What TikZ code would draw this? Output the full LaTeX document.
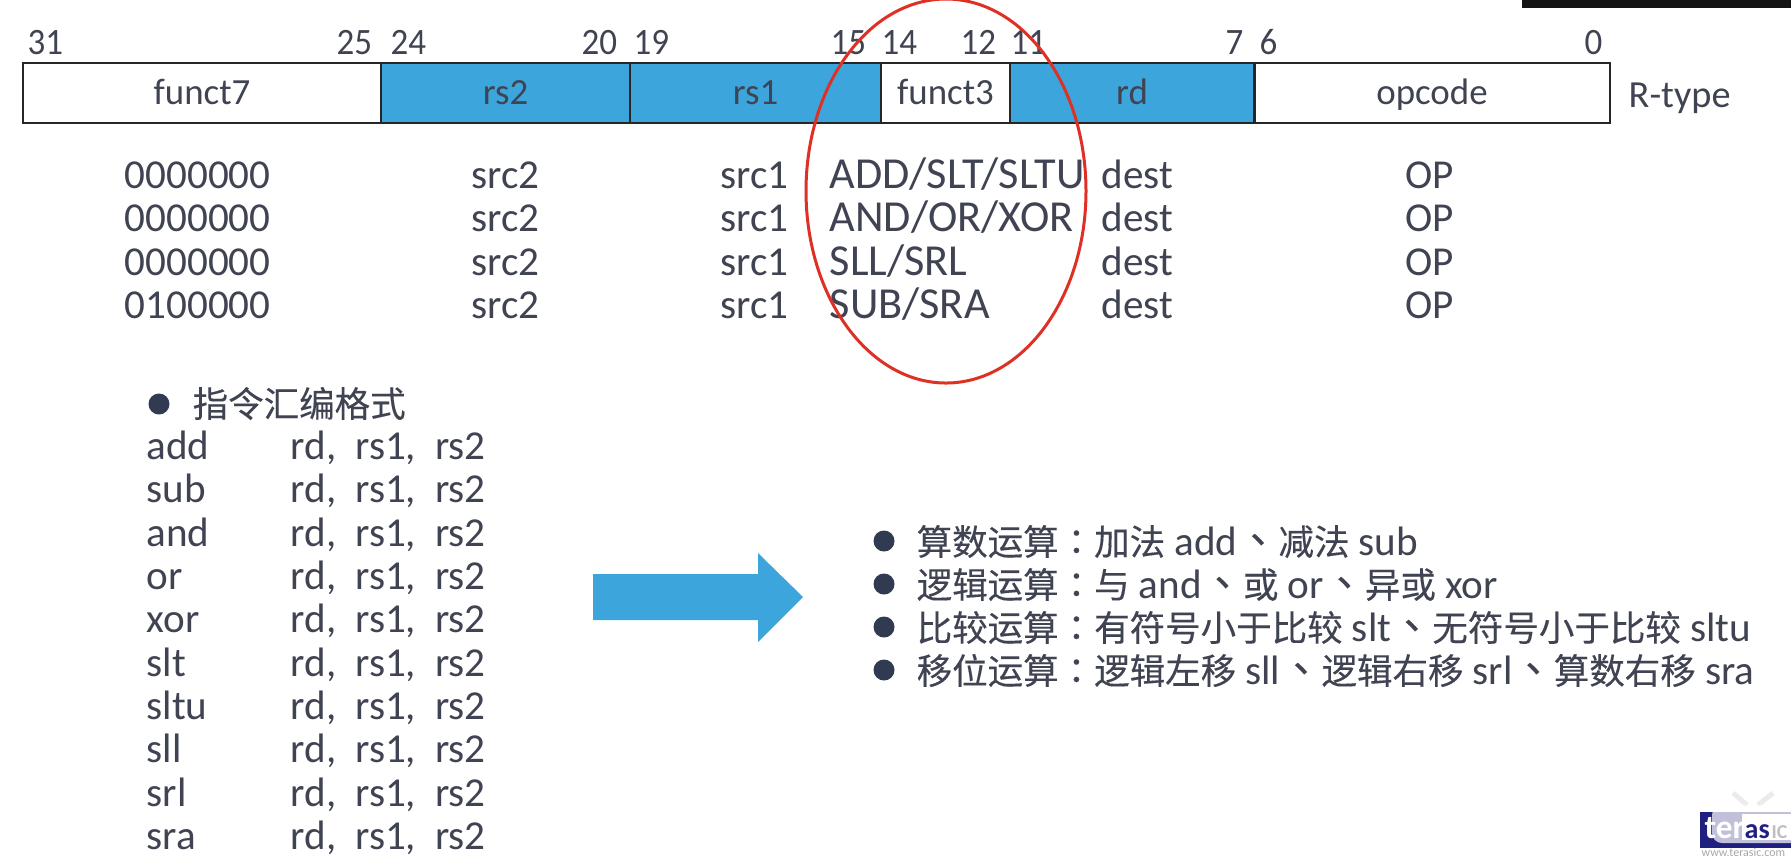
\documentclass[tikz,border=0pt]{standalone}
\usepackage{fontspec}
\setmainfont{Carlito}
\newfontfamily\bitf[FakeStretch=0.94]{Carlito}
\newfontfamily\cjk[FakeBold=0.25]{Noto Sans CJK SC}
\newfontfamily\cjkp[FakeBold=0.25]{Noto Sans CJK TC}
\usetikzlibrary{positioning,calc}
\definecolor{fieldF}{RGB}{60,165,220}
\definecolor{ink}{RGB}{64,68,82}
\definecolor{dotC}{RGB}{48,58,80}
\definecolor{ringL}{RGB}{222,48,36}
\definecolor{logoN}{RGB}{32,32,128}
\newcommand{\dun}{{\cjkp 、}}
\newcommand{\mao}{{\cjkp ：}}

\begin{document}
\begin{tikzpicture}[
  x=0.1mm, y=-0.1mm,
  field/.style={draw=black!85, line width=0.25mm, inner sep=0pt, minimum height=6mm, text=ink,
    text height=2.2mm, text depth=0pt, font=\fontsize{10.5pt}{12pt}\selectfont},
  reg/.style={field, fill=fieldF},
  plain/.style={field, fill=white},
  bitno/.style={anchor=base west, inner sep=0pt, text=ink, font=\fontsize{10.6pt}{12pt}\bitf},
  txt/.style={anchor=base west, inner sep=0pt, text=ink, font=\fontsize{11.7pt}{14pt}\selectfont},
  dot/.style={circle, fill=dotC, inner sep=0pt, minimum size=2.1mm},
]
\useasboundingbox (0,0) rectangle (1791,858);

% ---------- top bar ----------
\fill[black!92] (1522,0) rectangle (1791,8);

% ---------- fields ----------
\node[plain, minimum width=35.8mm] (funct7) at (202,93) {funct7};
\node[reg, minimum width=24.9mm] (rs2) at (505.5,93) {rs2};
\node[reg, minimum width=25.1mm] (rs1) at (755.5,93) {rs1};
\node[plain, minimum width=12.9mm] (funct3) at (945.5,93) {funct3};
\node[reg, minimum width=24.45mm] (rd) at (1132,93) {rd};
\node[plain, minimum width=35.55mm] (opcode) at (1432,93) {opcode};
\node[txt, font=\fontsize{10.9pt}{12pt}\selectfont] (rtype) at (1628,107) {R-type};

% bit numbers
\foreach \x/\b in {27/31,336/25,390/24,581/20,633/19,830/15,881/14,960/12,1010/11,1225/7,1259/6,1584/0}
  \node[bitno] (bit\b) at (\x,54) {\b};

% ---------- encodings ----------
\foreach \y/\fs/\fn [count=\r] in {188/0000000/ADD\slash SLT\slash SLTU,231/0000000/AND\slash OR\slash XOR,
    275/0000000/SLL\slash SRL,318/0100000/SUB\slash SRA} {
  \node[txt] (sev\r) at (124,\y) {\fs};
  \node[txt] (srcb\r) at (471,\y) {src2};
  \node[txt] (srca\r) at (720,\y) {src1};
  \node[txt, font=\fontsize{12.6pt}{14pt}\selectfont] (thr\r) at (829,\y) {\fn};
  \node[txt] (dest\r) at (1101,\y) {dest};
  \node[txt] (opc\r) at (1405,\y) {OP};
}

% highlight
\draw[ringL, line width=0.3mm] (946,191) ellipse (140 and 192);

% ---------- assembly list ----------
\node[dot] (dotasm) at (159,404) {};
\node[txt, font=\fontsize{10.1pt}{12pt}\cjk] (asmhead) at (192,417) {指令汇编格式};
\foreach \y/\m in {459/add,502/sub,546/and,589/or,632/xor,676/slt,719/sltu,762/sll,806/srl,849/sra} {
  \node[txt] (m\m) at (146,\y) {\m};
  \node[txt] (a\m) at (290,\y) {rd,\hspace{1.9mm}rs1,\hspace{1.9mm}rs2};
}

% ---------- arrow ----------
\fill[fieldF] (593,574) -- (758,574) -- (758,553) -- (803,597) -- (758,642) -- (758,620) -- (593,620) -- cycle;

% ---------- categories ----------
\foreach \y in {541,584,627,670}
  \node[dot] (dot\y) at (884,\y) {};
\tikzset{cat/.style={txt, font=\fontsize{11.7pt}{14pt}\selectfont}}
\node[cat] (arith) at (916,555) {{\fontsize{10.1pt}{12pt}\cjk 算数运算\mao 加法} add\dun{\fontsize{10.1pt}{12pt}\cjk 减法} sub};
\node[cat] (logic) at (916,598) {{\fontsize{10.1pt}{12pt}\cjk 逻辑运算\mao 与} and\dun{\fontsize{10.1pt}{12pt}\cjk 或} or\dun{\fontsize{10.1pt}{12pt}\cjk 异或} xor};
\node[cat] (comp) at (916,641) {{\fontsize{10.1pt}{12pt}\cjk 比较运算\mao 有符号小于比较} slt\dun{\fontsize{10.1pt}{12pt}\cjk 无符号小于比较} sltu};
\node[cat] (shift) at (916,684) {{\fontsize{10.1pt}{12pt}\cjk 移位运算\mao 逻辑左移} sll\dun{\fontsize{10.1pt}{12pt}\cjk 逻辑右移} srl\dun{\fontsize{10.1pt}{12pt}\cjk 算数右移} sra};

% ---------- logo ----------
\fill[logoN] (1700,812) rectangle (1791,848);
\draw[black!8, line width=0.5mm] (1733,793) -- (1747,805) (1773,793) -- (1758,805);
\fill[white, opacity=0.72, rounded corners=1mm] (1712,805) rectangle (1810,843);
\fill[white] (1742,814) -- (1791,814) -- (1791,840) -- (1742,840) -- cycle;
\node[anchor=base west, inner sep=0pt, text=white, font=\bfseries\fontsize{9.5pt}{11pt}\selectfont] (logoa) at (1704,838) {ter};
\node[anchor=base west, inner sep=0pt, text=logoN, font=\bfseries\fontsize{8pt}{10pt}\selectfont] (logob) at (1744,838) {as};
\node[anchor=base west, inner sep=0pt, text=black!25, font=\bfseries\fontsize{5.6pt}{8pt}\selectfont] (logoc) at (1771,838) {IC};
\node[anchor=base west, inner sep=0pt, text=black!35, font=\fontsize{3.4pt}{5pt}\selectfont] (logod) at (1701,856) {www.terasic.com};
\end{tikzpicture}
\end{document}
